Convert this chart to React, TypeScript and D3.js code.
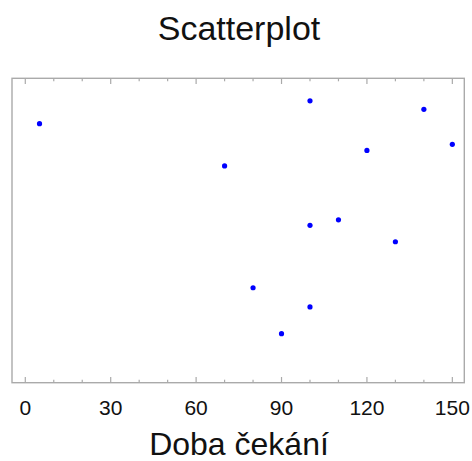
import React from "react";
import * as d3 from "d3";

const waitTimes = [5, 70, 100, 140, 120, 150, 100, 110, 130, 80, 100, 90];
const values = [8.51, 7.12, 9.26, 8.98, 7.63, 7.83, 5.17, 5.35, 4.63, 3.12, 2.49, 1.61];
const majorTicks = [0, 30, 60, 90, 120, 150];
const minorTicks = d3.range(0, 151, 10);
const title = "Scatterplot";
const xLabel = "Doba čekání";

const W = 472;
const H = 461;
const left = 12;
const right = 464.3;
const top = 78.3;
const bottom = 382.7;

export default function App() {
  const x = d3.scaleLinear().domain([-4.67, 154.2]).range([left, right]);
  const y = d3.scaleLinear().domain([0, 10]).range([bottom, top]);
  const font = "'Liberation Sans', Arial, sans-serif";
  const frame = "#aaaaaa";
  return (
    <svg width={W} height={H} style={{ position: "absolute", left: 0, top: 0, background: "#fff" }}>
      <text x={W / 2 + 3} y={40} textAnchor="middle" fontFamily={font} fontSize={34} fill="#111">
        {title}
      </text>
      <rect x={left} y={top} width={right - left} height={bottom - top} fill="none" stroke={frame} strokeWidth={1.4} />
      {minorTicks.map((t) => {
        const major = t % 30 === 0;
        const len = major ? 5.7 : 3;
        return (
          <g key={t}>
            <line x1={x(t)} x2={x(t)} y1={top} y2={top + len} stroke={frame} strokeWidth={1.2} />
            <line x1={x(t)} x2={x(t)} y1={bottom} y2={bottom - len} stroke={frame} strokeWidth={1.2} />
          </g>
        );
      })}
      {majorTicks.map((t) => (
        <text key={t} x={x(t)} y={415} textAnchor="middle" fontFamily={font} fontSize={21} fill="#111">
          {t}
        </text>
      ))}
      <text x={239} y={455} textAnchor="middle" fontFamily={font} fontSize={32} fill="#111">
        {xLabel}
      </text>
      {waitTimes.map((w, i) => (
        <circle key={i} cx={x(w)} cy={y(values[i])} r={2.6} fill="#0000ff" />
      ))}
    </svg>
  );
}
